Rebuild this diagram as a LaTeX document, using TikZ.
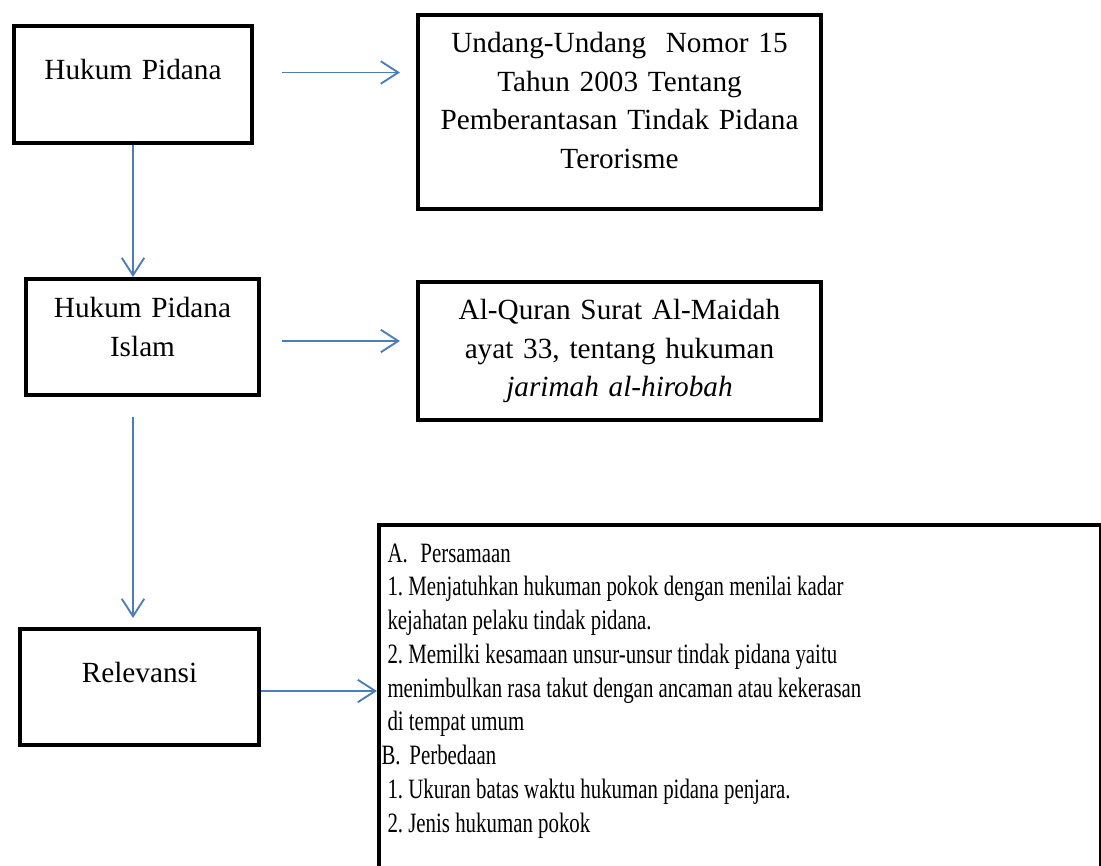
\documentclass[tikz,border=0pt]{standalone}
\usepackage{fontspec}
\setmainfont{Liberation Serif}
\usepackage{graphicx}
\usepackage{xcolor}
\definecolor{arrowblue}{HTML}{4A7EBB}
\usetikzlibrary{positioning,calc,arrows.meta}
\frenchspacing

\begin{document}
\begin{tikzpicture}[x=0.4pt,y=-0.4pt,
  box/.style={draw,line width=1.6pt,inner sep=0pt},
  txt/.style={anchor=base,align=center,inner sep=0pt,font=\fontsize{11.7}{15.4}\selectfont},
  listtxt/.style={anchor=base west,inner sep=0pt,font=\fontsize{11.2}{13.5}\selectfont},
  arr/.style={draw=arrowblue,line width=0.75pt,-{Straight Barb[length=7pt,width=9pt]}}]
  \useasboundingbox (0,0) rectangle (1101,866);
  \clip (0,0) rectangle (1101,866);
      \node[box,minimum width=95.2pt,minimum height=46.8pt] (hp) at (133,84.5) {};
      \node[box,minimum width=161.2pt,minimum height=77.6pt] (uu) at (619.5,112) {};
      \node[box,minimum width=93.2pt,minimum height=46.4pt] (hpi) at (142.5,337) {};
      \node[box,minimum width=161.2pt,minimum height=55.2pt] (aq) at (619.5,351) {};
      \node[box,minimum width=95.6pt,minimum height=46.4pt] (rel) at (139.5,687) {};
      \node[box,anchor=north west,minimum width=288.8pt,minimum height=176pt] (big) at (377,523) {};
      \node[txt,text width=95pt] (hptxt) at (133,80) {Hukum Pidana};
      \node[txt,text width=160pt] (uutxt) at (619.5,53) {Undang-Undang~ Nomor 15\\Tahun 2003 Tentang\\Pemberantasan Tindak Pidana\\Terorisme};
      \node[txt,text width=93pt] (hpitxt) at (142.5,318) {Hukum Pidana\\Islam};
      \node[txt,text width=160pt] (aqtxt) at (619.5,320) {Al-Quran Surat Al-Maidah\\ayat 33, tentang hukuman\\\textit{jarimah al-hirobah}};
      \node[txt,text width=95pt] (reltxt) at (139.5,682) {Relevansi};
      \node[listtxt] (bigtxt) at (387,562) {\scalebox{0.745}[1]{\begin{tabular}[t]{@{}l@{}}
        \makebox[17.7pt][l]{A.}Persamaan\\
        1. Menjatuhkan hukuman pokok dengan menilai kadar\\
        kejahatan pelaku tindak pidana.\\
        2. Memilki kesamaan unsur-unsur tindak pidana yaitu\\
        menimbulkan rasa takut dengan ancaman atau kekerasan\\
        di tempat umum\\
        \hspace*{-3.2pt}\makebox[15pt][l]{B.}Perbedaan\\
        1. Ukuran batas waktu hukuman pidana penjara.\\
        2. Jenis hukuman pokok
      \end{tabular}}};
      \draw[arr,shorten <=11.2pt,shorten >=6.4pt] ($(hp.east)+(0,-12)$) -- ($(hp.east -| uu.west)+(0,-12)$);
      \draw[arr,shorten <=8.4pt,shorten >=6.4pt] ($(hpi.east)+(0,4)$) -- ($(hpi.east -| aq.west)+(0,4)$);
      \draw[arr] ($(rel.east)+(0,4)$) -- ($(rel.east -| big.west)+(0,4)$);
      \draw[arr] (hp.south) -- (hp.south |- hpi.north);
      \draw[arr,shorten <=8pt,shorten >=3.6pt] (hp.south |- hpi.south) -- (hp.south |- rel.north);
\end{tikzpicture}
\end{document}
